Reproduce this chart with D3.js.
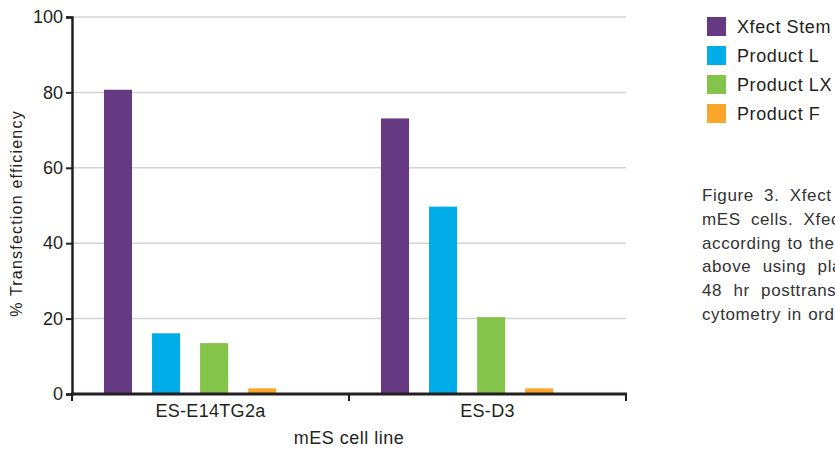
<!DOCTYPE html>
<html>
<head>
<meta charset="utf-8">
<script src="https://cdn.jsdelivr.net/npm/d3@7"></script>
<style>
  body { margin: 0; background: #fff; }
  text { font-family: "Liberation Sans", Arial, Helvetica, sans-serif; fill: #231f20; }
</style>
</head>
<body>
<div id="vis-container"></div>
<script>
// ------------------------------ DATA ------------------------------ //
const cellLines = ["ES-E14TG2a", "ES-D3"];
const reagents = ["Xfect Stem", "Product L", "Product LX", "Product F"];
const xfectStem = [80.7, 73.1];
const productL = [16.1, 49.7];
const productLX = [13.5, 20.4];
const productF = [1.5, 1.5];
const yTicks = [0, 20, 40, 60, 80, 100];
const colors = ["#663a82", "#00ade8", "#84c44a", "#f9a72b"];
const captionLines = [
  "Figure 3. Xfect",
  "mES cells. Xfect",
  "according to the",
  "above using plasmid",
  "48 hr posttransfection",
  "cytometry in order"
];

// ------------------------------ SET UP ------------------------------ //
const width = 835;
const height = 450;
const margin = { top: 17, left: 72, right: 209, bottom: 56 };

const svg = d3.select("#vis-container")
  .append("svg")
  .attr("width", width)
  .attr("height", height);

const seriesValues = [xfectStem, productL, productLX, productF];
const rows = cellLines.map((line, i) => ({
  line: line,
  values: reagents.map((r, j) => ({ reagent: r, value: seriesValues[j][i], color: colors[j] }))
}));

// Scales
const x0 = d3.scaleBand()
  .domain(cellLines)
  .range([margin.left, width - margin.right])
  .padding(0);

const x1 = d3.scaleBand()
  .domain(reagents)
  .range([0, x0.bandwidth()])
  .paddingInner(0.4167)
  .paddingOuter(1.09)
  .align(0.305);

const y = d3.scaleLinear()
  .domain([0, 100])
  .range([height - margin.bottom, margin.top]);

// Gridlines
svg.append("g")
  .selectAll("line")
  .data(yTicks.filter(d => d > 0))
  .enter()
  .append("line")
  .attr("x1", margin.left)
  .attr("x2", width - margin.right)
  .attr("y1", d => y(d))
  .attr("y2", d => y(d))
  .attr("stroke", "#d4d4d4")
  .attr("stroke-width", 1.5);

// Bars
svg.append("g")
  .selectAll("g")
  .data(rows)
  .enter()
  .append("g")
  .attr("transform", d => `translate(${x0(d.line)},0)`)
  .selectAll("rect")
  .data(d => d.values)
  .enter()
  .append("rect")
  .attr("x", d => x1(d.reagent))
  .attr("y", d => y(d.value))
  .attr("width", x1.bandwidth())
  .attr("height", d => y(0) - y(d.value))
  .attr("fill", d => d.color);

// Y axis
svg.append("g")
  .attr("transform", `translate(${margin.left},0)`)
  .call(d3.axisLeft(y).tickValues(yTicks).tickSize(6).tickPadding(3))
  .call(g => g.selectAll("line").attr("stroke", "#231f20").attr("stroke-width", 2))
  .call(g => g.select(".domain").attr("stroke", "#231f20").attr("stroke-width", 2.5))
  .call(g => g.selectAll("text").attr("font-size", "18px").attr("fill", "#231f20")
    .style("font-family", "'Liberation Sans', Arial, sans-serif"));

// X axis: labels at band centres, ticks at band boundaries
const xAxis = svg.append("g")
  .attr("transform", `translate(0,${y(0)})`)
  .call(d3.axisBottom(x0).tickSize(0).tickPadding(10))
  .call(g => g.select(".domain").remove())
  .call(g => g.selectAll("text").attr("font-size", "18px").attr("fill", "#231f20")
    .attr("letter-spacing", "0.3px")
    .style("font-family", "'Liberation Sans', Arial, sans-serif"));

xAxis.append("line")
  .attr("x1", margin.left - 1)
  .attr("x2", width - margin.right + 1)
  .attr("stroke", "#231f20")
  .attr("stroke-width", 3);

xAxis.selectAll(".bound")
  .data(cellLines.map(d => x0(d)).concat([x0.range()[1]]))
  .enter()
  .append("line")
  .attr("class", "bound")
  .attr("x1", d => d)
  .attr("x2", d => d)
  .attr("y1", 0)
  .attr("y2", 7)
  .attr("stroke", "#231f20")
  .attr("stroke-width", 2);

// Axis titles
svg.append("text")
  .attr("x", (x0.range()[0] + x0.range()[1]) / 2)
  .attr("y", 444)
  .attr("text-anchor", "middle")
  .attr("font-size", "18px")
  .attr("letter-spacing", "0.5px")
  .text("mES cell line");

svg.append("text")
  .attr("transform", `translate(22,${(y(0) + y(100)) / 2 + 8}) rotate(-90)`)
  .attr("text-anchor", "middle")
  .attr("font-size", "16px")
  .attr("letter-spacing", "1.2px")
  .text("% Transfection efficiency");

// Legend
const legend = svg.append("g")
  .selectAll("g")
  .data(reagents)
  .enter()
  .append("g")
  .attr("transform", (d, i) => `translate(707,${17 + i * 29})`);

legend.append("rect")
  .attr("width", 19)
  .attr("height", 19)
  .attr("fill", (d, i) => colors[i]);

legend.append("text")
  .attr("x", 30)
  .attr("y", 16)
  .attr("font-size", "18px")
  .attr("letter-spacing", "0.6px")
  .text(d => d);

// Caption (clipped by the page edge)
const wordSpacing = [5, 5, 1, 6, 6, 1];
svg.append("g")
  .selectAll("text")
  .data(captionLines)
  .enter()
  .append("text")
  .attr("x", 702)
  .attr("y", (d, i) => 201 + i * 23.8)
  .attr("font-size", "17px")
  .attr("letter-spacing", "0.6px")
  .attr("word-spacing", (d, i) => wordSpacing[i] + "px")
  .style("fill", "#333")
  .text(d => d);
</script>
</body>
</html>
